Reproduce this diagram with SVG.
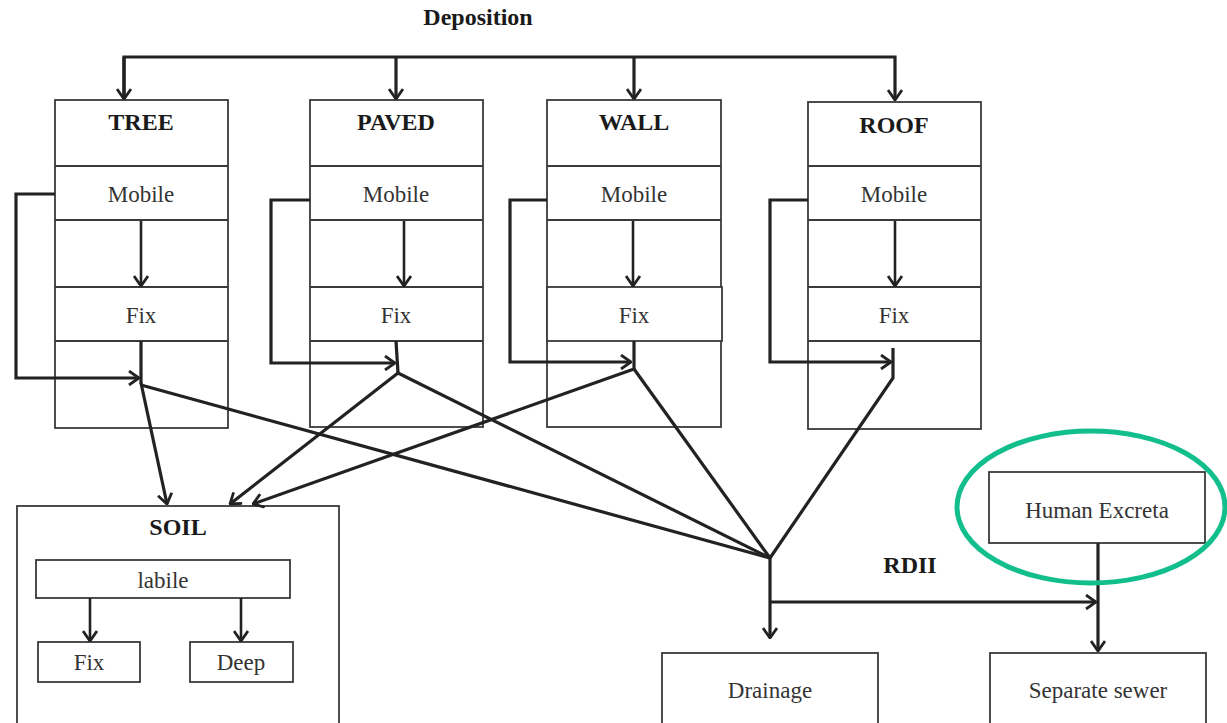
<svg xmlns="http://www.w3.org/2000/svg" width="1227" height="723" viewBox="0 0 1227 723">
<style>
.box{fill:#fff;stroke:#3a3a3a;stroke-width:1.8}
.div{stroke:#3a3a3a;stroke-width:1.8}
.t{font-family:"Liberation Serif","Times New Roman",serif;font-size:23px;fill:#333;text-anchor:middle}
.b{font-family:"Liberation Serif","Times New Roman",serif;font-size:24px;font-weight:bold;fill:#1a1a1a;text-anchor:middle}
.c{fill:none;stroke:#222;stroke-width:3.2;stroke-linejoin:miter}
.ct{fill:none;stroke:#222;stroke-width:2.6}
</style>
<defs>
<marker id="ah" viewBox="0 0 12 16" refX="11" refY="8" markerWidth="12" markerHeight="16" markerUnits="userSpaceOnUse" orient="auto">
<path d="M1,1 L11,8 L1,15" fill="none" stroke="#222" stroke-width="2.8"/>
</marker>
</defs>
<rect width="1227" height="723" fill="#fff"/>

<g id="deposition"><text class="b" x="478" y="25">Deposition</text></g>

<g id="tree">
<rect class="box" x="55" y="100" width="173" height="328"/>
<line class="div" x1="55" y1="166" x2="228" y2="166"/>
<line class="div" x1="55" y1="220" x2="228" y2="220"/>
<line class="div" x1="55" y1="287" x2="228" y2="287"/>
<line class="div" x1="55" y1="341" x2="228" y2="341"/>
<text class="b" x="141" y="130">TREE</text>
<text class="t" x="141" y="202">Mobile</text>
<text class="t" x="141" y="323">Fix</text>
</g>

<g id="paved">
<rect class="box" x="310" y="100" width="173" height="327"/>
<line class="div" x1="310" y1="166" x2="483" y2="166"/>
<line class="div" x1="310" y1="220" x2="483" y2="220"/>
<line class="div" x1="310" y1="287" x2="483" y2="287"/>
<line class="div" x1="310" y1="341" x2="483" y2="341"/>
<text class="b" x="396" y="130">PAVED</text>
<text class="t" x="396" y="202">Mobile</text>
<text class="t" x="396" y="323">Fix</text>
</g>

<g id="wall">
<rect class="box" x="547" y="100" width="174" height="327"/>
<line class="div" x1="547" y1="166" x2="721" y2="166"/>
<line class="div" x1="547" y1="220" x2="721" y2="220"/>
<rect class="box" x="547" y="287" width="175" height="54"/>
<text class="b" x="634" y="130">WALL</text>
<text class="t" x="634" y="202">Mobile</text>
<text class="t" x="634" y="323">Fix</text>
</g>

<g id="roof">
<rect class="box" x="808" y="102" width="173" height="327"/>
<line class="div" x1="808" y1="166" x2="981" y2="166"/>
<line class="div" x1="808" y1="220" x2="981" y2="220"/>
<line class="div" x1="808" y1="287" x2="981" y2="287"/>
<line class="div" x1="808" y1="341" x2="981" y2="341"/>
<text class="b" x="894" y="133">ROOF</text>
<text class="t" x="894" y="202">Mobile</text>
<text class="t" x="894" y="323">Fix</text>
</g>

<g id="soil">
<rect class="box" x="17" y="506" width="322" height="230"/>
<text class="b" x="178" y="535">SOIL</text>
<rect class="box" x="36" y="560" width="254" height="38"/>
<text class="t" x="163" y="588">labile</text>
<rect class="box" x="38" y="642" width="102" height="40"/>
<text class="t" x="89" y="670">Fix</text>
<rect class="box" x="190" y="642" width="103" height="40"/>
<text class="t" x="241" y="670">Deep</text>
</g>

<g id="human-excreta">
<rect class="box" x="989" y="472" width="216" height="71"/>
<text class="t" x="1097" y="518">Human Excreta</text>
</g>

<g id="rdii"><text class="b" x="910" y="573">RDII</text></g>

<g id="drainage">
<rect class="box" x="662" y="653" width="216" height="90"/>
<text class="t" x="770" y="698">Drainage</text>
</g>

<g id="separate-sewer">
<rect class="box" x="990" y="653" width="216" height="90"/>
<text class="t" x="1098" y="698">Separate sewer</text>
</g>

<g id="connectors">
<!-- deposition distribution -->
<polyline class="c" points="124,99 124,57 895,57 895,100" marker-end="url(#ah)"/>
<polyline class="c" points="124,57 124,99" marker-end="url(#ah)"/>
<line class="c" x1="396" y1="57" x2="396" y2="99" marker-end="url(#ah)"/>
<line class="c" x1="634" y1="57" x2="634" y2="99" marker-end="url(#ah)"/>

<!-- mobile to fix -->
<line class="ct" x1="141" y1="221" x2="141" y2="286" marker-end="url(#ah)"/>
<line class="ct" x1="404" y1="221" x2="404" y2="286" marker-end="url(#ah)"/>
<line class="ct" x1="633" y1="221" x2="633" y2="286" marker-end="url(#ah)"/>
<line class="ct" x1="895" y1="221" x2="895" y2="286" marker-end="url(#ah)"/>

<!-- feedback loops -->
<polyline class="c" points="55,194 16,194 16,378 139,378" marker-end="url(#ah)"/>
<polyline class="c" points="310,200 271,200 271,363 395,363" marker-end="url(#ah)"/>
<polyline class="c" points="547,200 510,200 510,362 631,362" marker-end="url(#ah)"/>
<polyline class="c" points="808,200 770,200 770,362 891,362" marker-end="url(#ah)"/>

<!-- fix outlets -->
<line class="c" x1="141" y1="341" x2="141" y2="384"/>
<line class="c" x1="396" y1="341" x2="398" y2="373"/>
<line class="c" x1="634" y1="341" x2="634" y2="369"/>
<polyline class="c" points="893,348 893,378 770,558"/>

<!-- to soil -->
<line class="c" x1="141" y1="383" x2="167" y2="504" marker-end="url(#ah)"/>
<line class="c" x1="398" y1="373" x2="230" y2="504" marker-end="url(#ah)"/>
<line class="c" x1="634" y1="369" x2="253" y2="504" marker-end="url(#ah)"/>

<!-- to convergence -->
<line class="c" x1="141" y1="385" x2="770" y2="558"/>
<line class="c" x1="398" y1="373" x2="770" y2="558"/>
<line class="c" x1="634" y1="369" x2="770" y2="558"/>

<!-- RDII -->
<line class="c" x1="770" y1="558" x2="770" y2="638" marker-end="url(#ah)"/>
<line class="c" x1="770" y1="602" x2="1096" y2="602" marker-end="url(#ah)"/>
<line class="c" x1="1098" y1="543" x2="1098" y2="651" marker-end="url(#ah)"/>

<!-- soil internal -->
<line class="ct" x1="90" y1="598" x2="90" y2="641" marker-end="url(#ah)"/>
<line class="ct" x1="241" y1="598" x2="241" y2="641" marker-end="url(#ah)"/>
</g>

<g id="highlight">
<ellipse cx="1091" cy="507" rx="134" ry="76" fill="none" stroke="#12bf8c" stroke-width="5"/>
</g>
</svg>
